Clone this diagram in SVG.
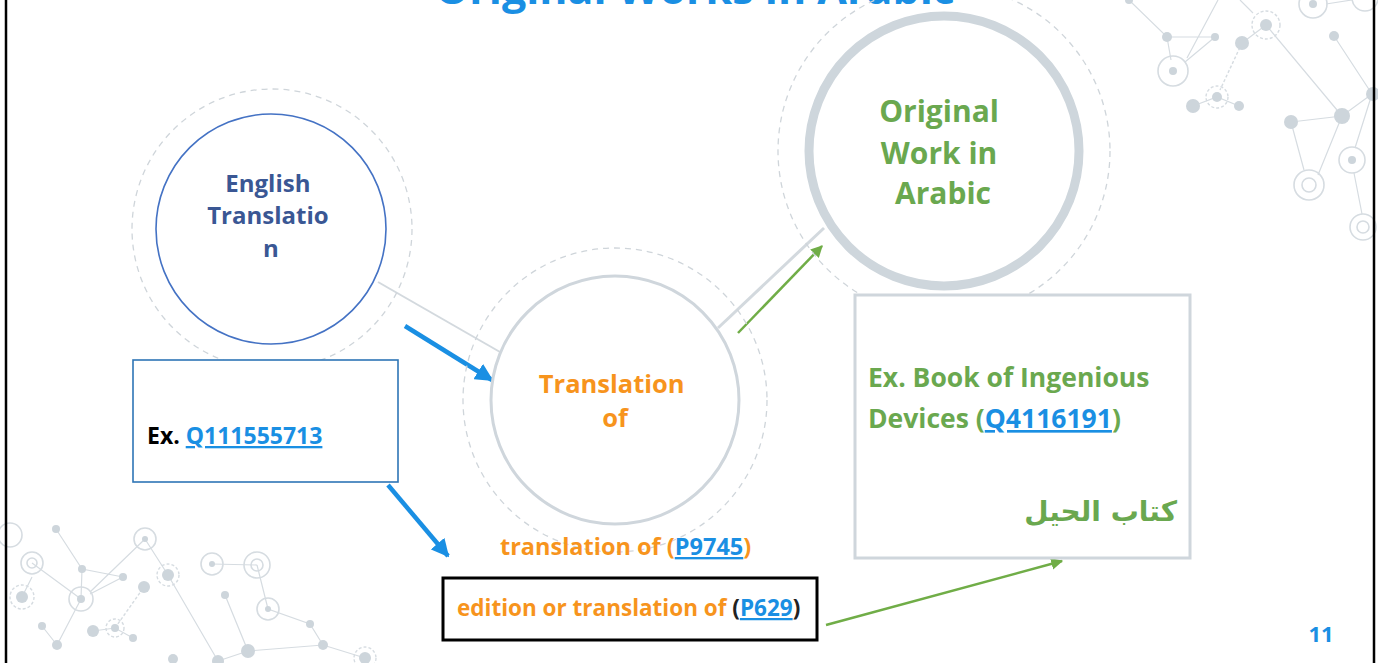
<svg xmlns="http://www.w3.org/2000/svg" width="1378" height="663" viewBox="0 0 1378 663">
  <style>
    .bg { fill: #ffffff; }
    .frame { stroke: #000000; stroke-width: 2.5; }
    .net-line { stroke: #d6dce1; stroke-width: 1.2; fill: none; }
    .net-dot { fill: #cdd5db; }
    .net-ring { fill: none; stroke: #d6dce1; stroke-width: 1.6; }
    .net-dash { fill: none; stroke: #d6dce1; stroke-width: 1.4; stroke-dasharray: 3 2; }
    .halo { fill: none; stroke: #cfd5da; stroke-width: 1.3; stroke-dasharray: 6 5; }
    .lbl { font-family: "Open Sans", "Noto Sans", "DejaVu Sans", sans-serif; font-weight: 700; }
    .link { fill: #1a8fe3; text-decoration: underline; }
    .blue-arrow { stroke: #1a8fe3; stroke-width: 4.5; fill: none; }
    .green-arrow { stroke: #70ad47; stroke-width: 2.5; fill: none; }
    .gray-link { stroke: #d3d9de; fill: none; }
  </style>
  <defs>
    <marker id="head-blue" viewBox="0 0 10 10" refX="9" refY="5" markerWidth="18" markerHeight="18" markerUnits="userSpaceOnUse" orient="auto">
      <path d="M0,0 L10,5 L0,10 z" fill="#1a8fe3"/>
    </marker>
    <marker id="head-green" viewBox="0 0 10 10" refX="9" refY="5" markerWidth="12" markerHeight="12" markerUnits="userSpaceOnUse" orient="auto">
      <path d="M0,0 L10,5 L0,10 z" fill="#70ad47"/>
    </marker>
  </defs>

  <rect class="bg" x="0" y="0" width="1378" height="663"/>

  <!-- decorative network, top right -->
  <g id="network-top-right">
    <path class="net-line" d="M1129,0 L1167,37 L1215,37 M1167,37 L1171,60 M1215,37 L1185,62 M1187,58 L1218,0 M1242,43 L1266,25 M1253,13 L1240,0 M1193,106 L1217,97 L1239,106 M1266,25 L1342,116 M1334,36 L1372,94 M1291,122 L1342,116 L1372,94 M1291,122 L1304,170 M1342,116 L1318,175 M1372,94 L1355,148 M1354,173 L1362,214 M1326,4 L1352,0"/>
    <path class="net-dash" d="M1242,43 L1220,90"/>
    <circle class="net-dot" cx="1129" cy="0" r="4"/>
    <circle class="net-dot" cx="1167" cy="37" r="5"/>
    <circle class="net-dot" cx="1215" cy="37" r="4"/>
    <circle class="net-dot" cx="1173" cy="71" r="4"/>
    <circle class="net-ring" cx="1173" cy="71" r="15"/>
    <circle class="net-dot" cx="1242" cy="43" r="7"/>
    <circle class="net-dot" cx="1266" cy="25" r="6"/>
    <circle class="net-dash" cx="1266" cy="25" r="14"/>
    <circle class="net-dot" cx="1217" cy="97" r="5"/>
    <circle class="net-dash" cx="1217" cy="97" r="11"/>
    <circle class="net-dot" cx="1193" cy="106" r="7"/>
    <circle class="net-dot" cx="1239" cy="106" r="5"/>
    <circle class="net-dot" cx="1334" cy="36" r="5"/>
    <circle class="net-dot" cx="1313" cy="4" r="4"/>
    <circle class="net-ring" cx="1313" cy="4" r="14"/>
    <circle class="net-ring" cx="1365" cy="-2" r="13"/>
    <circle class="net-dot" cx="1291" cy="122" r="7"/>
    <circle class="net-dot" cx="1342" cy="116" r="8"/>
    <circle class="net-dot" cx="1373" cy="94" r="7"/>
    <circle class="net-dot" cx="1352" cy="160" r="4"/>
    <circle class="net-ring" cx="1352" cy="160" r="13"/>
    <circle class="net-ring" cx="1309" cy="185" r="15"/>
    <circle class="net-ring" cx="1309" cy="185" r="7"/>
    <circle class="net-ring" cx="1363" cy="227" r="13"/>
    <circle class="net-ring" cx="1363" cy="227" r="6"/>
  </g>

  <!-- decorative network, bottom left -->
  <g id="network-bottom-left">
    <path class="net-line" d="M56,529 L82,569 L123,577 M82,569 L81,599 M32,563 L81,599 M145,539 L90,592 M145,539 L168,575 L218,661 M81,599 L57,645 M123,577 L90,594 M42,626 L57,645 M93,631 L115,628 L133,638 M212,564 L257,565 M257,565 L268,609 L310,624 L323,645 M225,595 L248,651 L323,645 L365,658 M218,661 L248,651 M22,597 L32,577"/>
    <path class="net-dash" d="M115,628 L144,587"/>
    <circle class="net-ring" cx="10" cy="535" r="12"/>
    <circle class="net-dot" cx="56" cy="529" r="4"/>
    <circle class="net-ring" cx="32" cy="563" r="11"/>
    <circle class="net-ring" cx="32" cy="563" r="5"/>
    <circle class="net-dot" cx="82" cy="569" r="4"/>
    <circle class="net-dot" cx="123" cy="577" r="4"/>
    <circle class="net-dot" cx="145" cy="539" r="3"/>
    <circle class="net-ring" cx="145" cy="539" r="11"/>
    <circle class="net-dot" cx="168" cy="575" r="6"/>
    <circle class="net-dash" cx="168" cy="575" r="11"/>
    <circle class="net-dot" cx="144" cy="587" r="6"/>
    <circle class="net-dot" cx="81" cy="599" r="4"/>
    <circle class="net-ring" cx="81" cy="599" r="12"/>
    <circle class="net-dot" cx="22" cy="597" r="6"/>
    <circle class="net-dash" cx="22" cy="597" r="12"/>
    <circle class="net-dot" cx="212" cy="564" r="3"/>
    <circle class="net-ring" cx="212" cy="564" r="11"/>
    <circle class="net-ring" cx="257" cy="565" r="13"/>
    <circle class="net-ring" cx="257" cy="565" r="6"/>
    <circle class="net-dot" cx="225" cy="595" r="4"/>
    <circle class="net-dot" cx="268" cy="609" r="3"/>
    <circle class="net-ring" cx="268" cy="609" r="11"/>
    <circle class="net-dot" cx="42" cy="626" r="4"/>
    <circle class="net-dot" cx="57" cy="645" r="5"/>
    <circle class="net-dot" cx="93" cy="631" r="6"/>
    <circle class="net-dot" cx="115" cy="628" r="4"/>
    <circle class="net-dash" cx="115" cy="628" r="9"/>
    <circle class="net-dot" cx="133" cy="638" r="4"/>
    <circle class="net-dot" cx="310" cy="624" r="4"/>
    <circle class="net-dot" cx="323" cy="645" r="5"/>
    <circle class="net-dot" cx="248" cy="651" r="7"/>
    <circle class="net-dot" cx="218" cy="661" r="6"/>
    <circle class="net-dot" cx="173" cy="659" r="5"/>
    <circle class="net-dot" cx="365" cy="658" r="6"/>
    <circle class="net-dash" cx="365" cy="658" r="11"/>
  </g>

  <!-- slide title (runs off the top edge) -->
  <text class="lbl" x="695" y="4" font-size="43" fill="#1a8fe3" text-anchor="middle">Original Works in Arabic</text>

  <!-- connectors -->
  <g id="connectors">
    <line class="gray-link" x1="378" y1="282" x2="500" y2="352" stroke-width="2"/>
    <line class="gray-link" x1="718" y1="328" x2="824" y2="228" stroke-width="3"/>
    <line class="blue-arrow" x1="405" y1="326" x2="492" y2="380" marker-end="url(#head-blue)"/>
    <line class="blue-arrow" x1="388" y1="485" x2="448" y2="556" marker-end="url(#head-blue)"/>
    <line class="green-arrow" x1="738" y1="333" x2="822" y2="246" marker-end="url(#head-green)"/>
    <line class="green-arrow" x1="826" y1="625" x2="1062" y2="561" marker-end="url(#head-green)"/>
  </g>

  <!-- node: English Translation -->
  <g id="node-english-translation">
    <circle class="halo" cx="272" cy="229" r="140"/>
    <circle cx="271" cy="229" r="115" fill="#ffffff" stroke="#4472c4" stroke-width="1.6"/>
    <text class="lbl" font-size="24" fill="#3a5794" text-anchor="middle">
      <tspan x="271" y="192">English</tspan>
      <tspan x="271" y="224">Translatio</tspan>
      <tspan x="271" y="257">n</tspan>
    </text>
  </g>

  <!-- node: Translation of -->
  <g id="node-translation-of">
    <circle class="halo" cx="615" cy="400" r="152"/>
    <circle cx="615" cy="400" r="124" fill="#ffffff" stroke="#cfd6dc" stroke-width="3"/>
    <text class="lbl" font-size="25.5" fill="#f7941d" text-anchor="middle">
      <tspan x="615" y="393">Translation</tspan>
      <tspan x="615" y="427">of</tspan>
    </text>
  </g>

  <!-- node: Original Work in Arabic -->
  <g id="node-original-work">
    <circle class="halo" cx="944" cy="151" r="166"/>
    <circle cx="944" cy="151" r="135" fill="#ffffff" stroke="#ced6dc" stroke-width="9"/>
    <text class="lbl" font-size="30" fill="#6aa84f" text-anchor="middle">
      <tspan x="943" y="122">Original</tspan>
      <tspan x="943" y="164">Work in</tspan>
      <tspan x="943" y="204">Arabic</tspan>
    </text>
  </g>

  <!-- node: example of the translation item -->
  <g id="node-example-translation">
    <rect x="133" y="360" width="265" height="122" fill="#ffffff" stroke="#2e75b6" stroke-width="1.6"/>
    <text class="lbl" x="147" y="444" font-size="23" fill="#000000">Ex. <tspan class="link">Q111555713</tspan></text>
  </g>

  <!-- node: example of the original work -->
  <g id="node-example-original">
    <rect x="855" y="295" width="335" height="263" fill="#ffffff" stroke="#cfd6dc" stroke-width="3"/>
    <text class="lbl" font-size="26.5" fill="#6aa84f">
      <tspan x="868" y="387">Ex. Book of Ingenious</tspan>
      <tspan x="868" y="428">Devices (<tspan class="link">Q4116191</tspan>)</tspan>
    </text>
    <text x="1177" y="521" font-family="'DejaVu Sans', 'Noto Sans', sans-serif" font-weight="700" font-size="28" fill="#6aa84f" text-anchor="start" direction="rtl">كتاب الحيل</text>
  </g>

  <!-- property label: translation of -->
  <g id="label-p9745">
    <text class="lbl" x="500" y="555" font-size="23.5" fill="#f7941d">translation of (<tspan class="link">P9745</tspan>)</text>
  </g>

  <!-- property label: edition or translation of -->
  <g id="label-p629">
    <rect x="443" y="578" width="374" height="62" fill="#ffffff" stroke="#000000" stroke-width="3"/>
    <text class="lbl" x="457" y="616" font-size="22.5" fill="#f7941d">edition or translation of <tspan fill="#222222">(</tspan><tspan class="link">P629</tspan><tspan fill="#222222">)</tspan></text>
  </g>

  <!-- page number -->
  <text class="lbl" x="1321" y="642" font-size="22" fill="#1a8fe3" text-anchor="middle">11</text>

  <!-- slide edges -->
  <line class="frame" x1="6" y1="0" x2="6" y2="663"/>
  <line class="frame" x1="1374" y1="0" x2="1374" y2="663"/>
</svg>
